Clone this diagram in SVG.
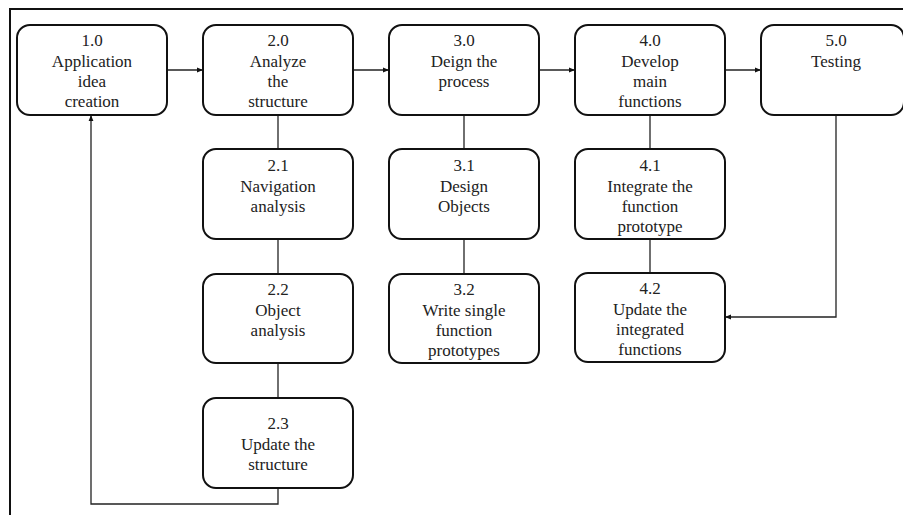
<svg xmlns="http://www.w3.org/2000/svg" width="903" height="515" viewBox="0 0 903 515">
<defs>
<style>
.box{fill:#fff;stroke:#111;stroke-width:2}
.lbl{font-family:"Liberation Serif","Times New Roman",serif;font-size:17px;fill:#222;text-anchor:middle}
.con{fill:none;stroke:#222;stroke-width:1.3}
.frame{fill:none;stroke:#111;stroke-width:2}
</style>
<marker id="arr" viewBox="0 0 10 10" refX="10" refY="5" markerWidth="6" markerHeight="6" markerUnits="userSpaceOnUse" orient="auto">
<path d="M0,1 L10,5 L0,9 z" fill="#111"/>
</marker>
</defs>
<rect width="903" height="515" fill="#fff"/>
<path class="frame" d="M10,515 V9 H903"/>
<g id="connectors">
<line class="con" x1="167" y1="70" x2="203" y2="70" marker-end="url(#arr)"/>
<line class="con" x1="353" y1="70" x2="389" y2="70" marker-end="url(#arr)"/>
<line class="con" x1="539" y1="70" x2="575" y2="70" marker-end="url(#arr)"/>
<line class="con" x1="725" y1="70" x2="761" y2="70" marker-end="url(#arr)"/>
<line class="con" x1="278" y1="115" x2="278" y2="149"/>
<line class="con" x1="278" y1="239" x2="278" y2="274"/>
<line class="con" x1="278" y1="363" x2="278" y2="398"/>
<polyline class="con" points="278,488 278,504 91,504 91,115" marker-end="url(#arr)"/>
<line class="con" x1="464" y1="115" x2="464" y2="149"/>
<line class="con" x1="464" y1="239" x2="464" y2="274"/>
<line class="con" x1="650" y1="115" x2="650" y2="149"/>
<line class="con" x1="650" y1="239" x2="650" y2="273"/>
<polyline class="con" points="836,115 836,317 725,317" marker-end="url(#arr)"/>
</g>
<g id="n10"><rect class="box" x="17" y="25" width="150" height="90" rx="13"/>
<text class="lbl" x="92" y="46">1.0</text><text class="lbl" x="92" y="66.5">Application</text><text class="lbl" x="92" y="87">idea</text><text class="lbl" x="92" y="107">creation</text></g>
<g id="n20"><rect class="box" x="203" y="25" width="150" height="90" rx="13"/>
<text class="lbl" x="278" y="46">2.0</text><text class="lbl" x="278" y="66.5">Analyze</text><text class="lbl" x="278" y="87">the</text><text class="lbl" x="278" y="107">structure</text></g>
<g id="n30"><rect class="box" x="389" y="25" width="150" height="90" rx="13"/>
<text class="lbl" x="464" y="46">3.0</text><text class="lbl" x="464" y="66.5">Deign the</text><text class="lbl" x="464" y="87">process</text></g>
<g id="n40"><rect class="box" x="575" y="25" width="150" height="90" rx="13"/>
<text class="lbl" x="650" y="46">4.0</text><text class="lbl" x="650" y="66.5">Develop</text><text class="lbl" x="650" y="87">main</text><text class="lbl" x="650" y="107">functions</text></g>
<g id="n50"><rect class="box" x="761" y="25" width="143" height="90" rx="13"/>
<text class="lbl" x="836" y="46">5.0</text><text class="lbl" x="836" y="66.5">Testing</text></g>
<g id="n21"><rect class="box" x="203" y="149" width="150" height="90" rx="13"/>
<text class="lbl" x="278" y="171">2.1</text><text class="lbl" x="278" y="191.5">Navigation</text><text class="lbl" x="278" y="212">analysis</text></g>
<g id="n22"><rect class="box" x="203" y="274" width="150" height="89" rx="13"/>
<text class="lbl" x="278" y="295">2.2</text><text class="lbl" x="278" y="315.5">Object</text><text class="lbl" x="278" y="336">analysis</text></g>
<g id="n23"><rect class="box" x="203" y="398" width="150" height="90" rx="13"/>
<text class="lbl" x="278" y="429">2.3</text><text class="lbl" x="278" y="449.5">Update the</text><text class="lbl" x="278" y="470">structure</text></g>
<g id="n31"><rect class="box" x="389" y="149" width="150" height="90" rx="13"/>
<text class="lbl" x="464" y="171">3.1</text><text class="lbl" x="464" y="191.5">Design</text><text class="lbl" x="464" y="212">Objects</text></g>
<g id="n32"><rect class="box" x="389" y="274" width="150" height="89" rx="13"/>
<text class="lbl" x="464" y="295">3.2</text><text class="lbl" x="464" y="315.5">Write single</text><text class="lbl" x="464" y="336">function</text><text class="lbl" x="464" y="356">prototypes</text></g>
<g id="n41"><rect class="box" x="575" y="149" width="150" height="90" rx="13"/>
<text class="lbl" x="650" y="171">4.1</text><text class="lbl" x="650" y="191.5">Integrate the</text><text class="lbl" x="650" y="212">function</text><text class="lbl" x="650" y="232">prototype</text></g>
<g id="n42"><rect class="box" x="575" y="273" width="150" height="89" rx="13"/>
<text class="lbl" x="650" y="294">4.2</text><text class="lbl" x="650" y="314.5">Update the</text><text class="lbl" x="650" y="335">integrated</text><text class="lbl" x="650" y="355">functions</text></g>
</svg>
